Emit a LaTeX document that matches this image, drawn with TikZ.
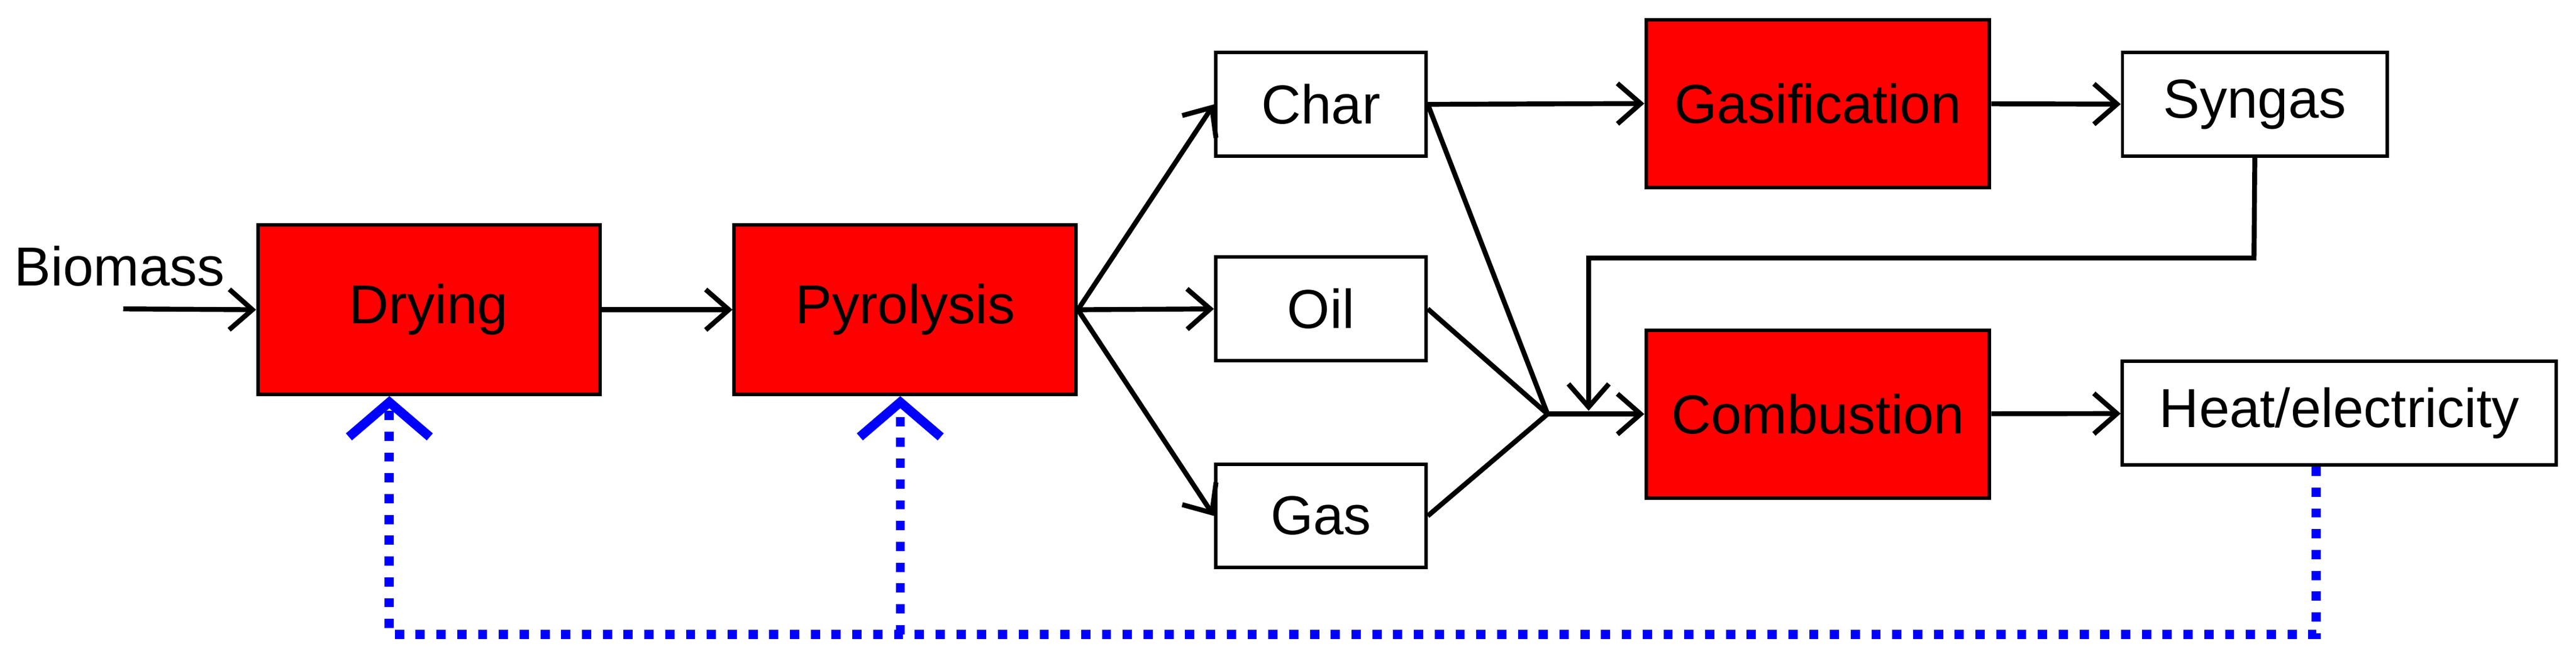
\documentclass[tikz,border=0pt]{standalone}
\usepackage{fontspec}
\setmainfont{Liberation Sans}
\usetikzlibrary{arrows.meta}
\begin{document}
\begin{tikzpicture}[x=0.01cm,y=-0.01cm,
  box/.style={draw=black,line width=0.6pt,inner sep=0,font=\fontsize{9.5}{11}\selectfont},
  red/.style={box,fill=red},
  arr/.style={line width=0.85pt,-{Straight Barb[length=4pt,width=7pt]}},
  ln/.style={line width=0.85pt},
  fb/.style={blue,line width=1.6pt,dotted},
  fba/.style={fb,-{Straight Barb[length=6pt,width=14pt,line width=1.6pt]}}]
\useasboundingbox (0,0) rectangle (1568,399);
\node[red,minimum width=2.08cm,minimum height=1.03cm] (dry) at (261,188.5) {Drying};
\node[red,minimum width=2.08cm,minimum height=1.03cm] (pyr) at (551,188.5) {Pyrolysis};
\node[box,minimum width=1.28cm,minimum height=0.63cm] (char) at (804,63.5) {Char};
\node[box,minimum width=1.28cm,minimum height=0.63cm] (oil) at (804,188) {Oil};
\node[box,minimum width=1.28cm,minimum height=0.63cm] (gas) at (804,314) {Gas};
\node[red,minimum width=2.09cm,minimum height=1.02cm] (gasi) at (1106.5,63) {Gasification};
\node[box,minimum width=1.61cm,minimum height=0.63cm] (syn) at (1372.5,63.5) {Syngas};
\node[red,minimum width=2.09cm,minimum height=1.02cm] (comb) at (1106.5,252) {Combustion};
\node[box,minimum width=2.64cm,minimum height=0.63cm] (heat) at (1424,251.5) {Heat/electricity};
\node[font=\fontsize{9.5}{11}\selectfont,anchor=west,inner sep=0] (bio) at (8,162) {Biomass};
\coordinate (bs) at (75,188);
\coordinate (j) at (942,252);
\draw[arr] (bs) -- (dry.west);
\draw[arr] (dry) -- (pyr);
\draw[arr] (pyr.east) -- (char.west);
\draw[arr] (pyr.east) -- (oil.west);
\draw[arr] (pyr.east) -- (gas.west);
\draw[arr] (char.east) -- (gasi.west);
\draw[ln] (char.east) -- (j);
\draw[ln] (oil.east) -- (j);
\draw[ln] (gas.east) -- (j);
\draw[arr] (j) -- (comb.west);
\draw[arr] (gasi) -- (syn);
\draw[arr] (syn.south) -- (1372,157) -- (967,157) -- (967,250);
\draw[arr] (comb) -- (heat);
\draw[fba] (heat.south -| 1410,0) -- (1410,386) -- (237,386) -- (dry.south -| 237,0);
\draw[fba] (548,386) -- (pyr.south -| 548,0);
\end{tikzpicture}
\end{document}
